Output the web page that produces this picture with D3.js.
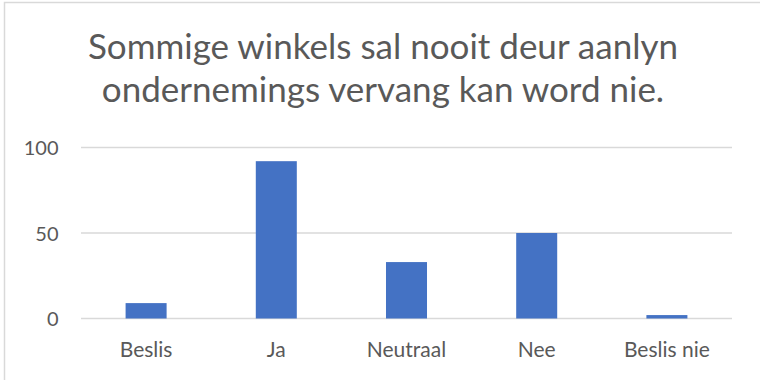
<!DOCTYPE html>
<html>
<head>
<meta charset="utf-8">
<script src="https://cdn.jsdelivr.net/npm/d3@7/dist/d3.min.js"></script>
<style>
  html, body { margin: 0; padding: 0; background: #fff; }
  svg { display: block; }
  text { font-family: Lato, "Open Sans", sans-serif; fill: #595959; }
</style>
</head>
<body>
<script>
// Survey responses for the statement in the title
const categories = ["Beslis", "Ja", "Neutraal", "Nee", "Beslis nie"];
const counts = [9, 92, 33, 50, 2];
const yTicks = [0, 50, 100];
const titleLines = ["Sommige winkels sal nooit deur aanlyn", "ondernemings vervang kan word nie."];

const W = 760, H = 380;
const plot = { left: 81, right: 732, top: 147.5, bottom: 318.5 };

const svg = d3.select("body").append("svg")
  .attr("width", W).attr("height", H);

// chart frame
svg.append("rect")
  .attr("x", 4.5).attr("y", 2.5)
  .attr("width", 757).attr("height", 380)
  .attr("fill", "#fff")
  .attr("stroke", "#d9d9d9").attr("stroke-width", 1.5);

// title
svg.append("g").selectAll("text")
  .data(titleLines)
  .join("text")
  .attr("x", 383)
  .attr("y", (d, i) => 59 + i * 42.7)
  .attr("text-anchor", "middle")
  .attr("font-size", 35)
  .text(d => d);

const x = d3.scaleBand()
  .domain(categories)
  .range([plot.left, plot.right])
  .paddingInner(0.685)
  .paddingOuter(0.3425);

const y = d3.scaleLinear()
  .domain([0, 100])
  .range([plot.bottom, plot.top]);

// horizontal gridlines
svg.append("g").selectAll("line")
  .data(yTicks)
  .join("line")
  .attr("x1", plot.left).attr("x2", plot.right)
  .attr("y1", d => y(d)).attr("y2", d => y(d))
  .attr("stroke", "#d9d9d9").attr("stroke-width", 1.5);

// y axis labels
const yAxis = d3.axisLeft(y).tickValues(yTicks).tickSize(0).tickPadding(0);
const gy = svg.append("g")
  .attr("transform", `translate(${plot.left - 22.5},0)`)
  .call(yAxis);
gy.select(".domain").remove();
gy.selectAll("text")
  .attr("font-size", 20)
  .attr("font-family", "Lato, 'Open Sans', sans-serif")
  .attr("fill", "#595959")
  .attr("dy", "0.36em");

// bars
svg.append("g").selectAll("rect")
  .data(categories.map((c, i) => ({ c, v: counts[i] })))
  .join("rect")
  .attr("x", d => x(d.c))
  .attr("width", x.bandwidth())
  .attr("y", d => y(d.v))
  .attr("height", d => y(0) - y(d.v))
  .attr("fill", "#4472c4");

// x axis labels
const xAxis = d3.axisBottom(x).tickSize(0).tickPadding(0);
const gx = svg.append("g")
  .attr("transform", `translate(0,${plot.bottom + 38.8})`)
  .call(xAxis);
gx.select(".domain").remove();
gx.selectAll("text")
  .attr("font-size", 21)
  .attr("font-family", "Lato, 'Open Sans', sans-serif")
  .attr("fill", "#595959")
  .attr("dy", 0);
</script>
</body>
</html>
